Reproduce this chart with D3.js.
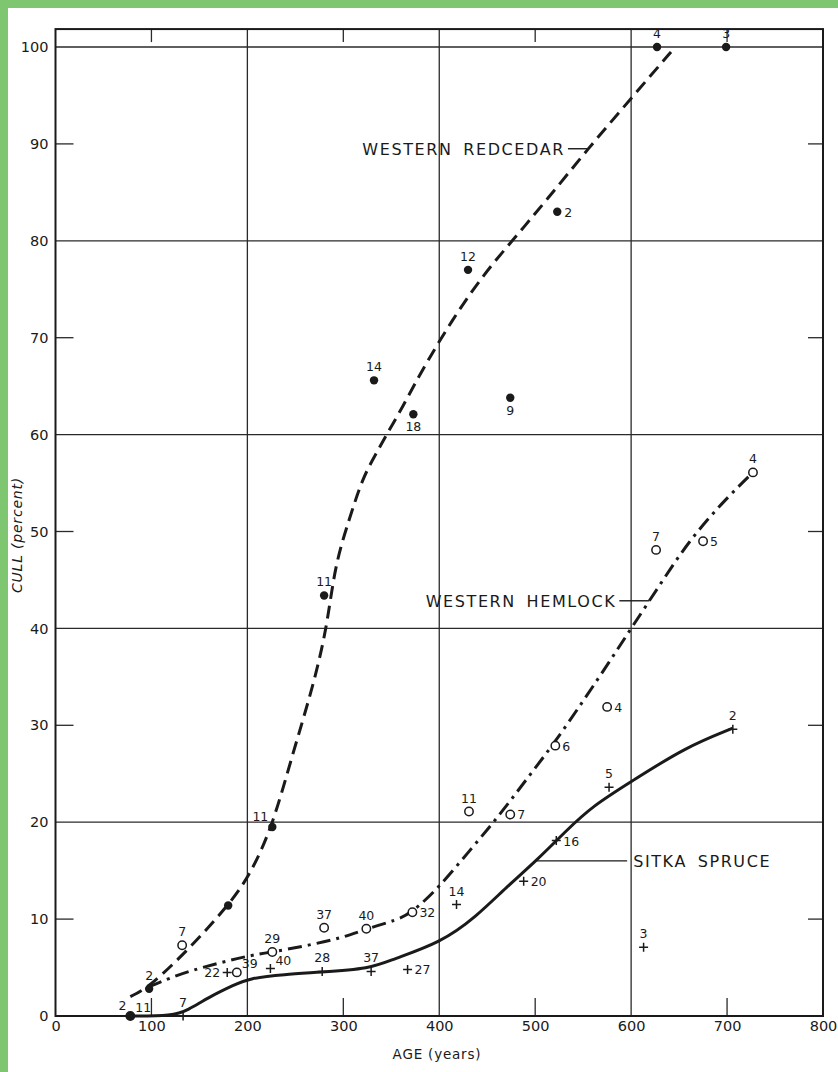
<!DOCTYPE html>
<html>
<head>
<meta charset="utf-8">
<script src="https://cdn.jsdelivr.net/npm/d3@7"></script>
<style>
  body { margin: 0; background: #fff; }
  text { font-family: "DejaVu Sans", sans-serif; fill: #1a1a1a; }
</style>
</head>
<body>
<div id="chart"></div>
<script>
// ---- data ----
const ageTicks = [0, 100, 200, 300, 400, 500, 600, 700, 800];
const cullTicks = [0, 10, 20, 30, 40, 50, 60, 70, 80, 90, 100];

// western redcedar (filled dots), label = number of trees
const cedarAge  = [78, 97.6, 180, 226, 280, 332, 373, 430, 474, 523, 627, 699];
const cedarCull = [0, 2.8, 11.4, 19.5, 43.4, 65.6, 62.1, 77.0, 63.8, 83.0, 100, 100];
const cedarN    = ["2", "2", "", "11", "11", "14", "18", "12", "9", "2", "4", "3"];
const cedarPos  = ["ul", "u", "u", "ul", "u", "u", "d", "u", "d", "r", "u", "u"];

// western hemlock (open circles)
const hemAge  = [78, 132, 189, 226, 280, 324, 372, 431, 474, 521, 575, 626, 675, 727];
const hemCull = [0, 7.3, 4.5, 6.6, 9.1, 9.0, 10.7, 21.1, 20.8, 27.9, 31.9, 48.1, 49.0, 56.1];
const hemN    = ["11", "7", "39", "29", "37", "40", "32", "11", "7", "6", "4", "7", "5", "4"];
const hemPos  = ["ur", "u", "ur", "u", "u", "u", "r", "u", "r", "r", "r", "u", "r", "u"];

// sitka spruce (plus signs)
const sprAge  = [133, 179, 224, 278, 329, 367, 418, 488, 522, 577, 613, 706];
const sprCull = [0, 4.5, 4.9, 4.6, 4.6, 4.8, 11.5, 13.9, 18.1, 23.6, 7.1, 29.6];
const sprN    = ["7", "22", "40", "28", "37", "27", "14", "20", "16", "5", "3", "2"];
const sprPos  = ["u", "l", "ur", "u", "u", "r", "u", "r", "r", "u", "u", "u"];

// fitted curves as drawn
const cedarCurveAge  = [78, 98, 140, 180, 202, 226, 247, 267, 283, 291, 307, 320, 334, 345, 360, 387, 435, 476, 512, 555, 600, 646];
const cedarCurveCull = [2, 3, 7, 11.4, 14.4, 19.5, 27, 33.5, 40, 46.5, 51.5, 55.5, 58, 60, 62.5, 67.6, 75.2, 80, 84.2, 89.5, 94.7, 100];
const hemCurveAge  = [97, 121, 148, 199, 226, 264, 300, 324, 356, 372, 399, 432, 461, 490, 521, 552, 577, 600, 630, 660, 695, 727];
const hemCurveCull = [3, 4, 4.9, 6.2, 6.6, 7.3, 8.1, 9.0, 9.9, 10.7, 13.2, 17.1, 20.5, 24.3, 28.3, 32.8, 36.5, 40, 44.5, 49, 53, 56.1];
const sprCurveAge  = [78, 122, 138, 159, 186, 202, 239, 274, 329, 350, 402, 438, 470, 502, 531, 560, 602, 656, 706];
const sprCurveCull = [0, 0, 0.6, 1.9, 3.2, 3.9, 4.3, 4.5, 4.9, 5.8, 7.6, 10.2, 13.3, 16.1, 19, 21.7, 24.3, 27.7, 29.7];

// curve names and the age where each leader meets its curve
const speciesNames = ["WESTERN REDCEDAR", "WESTERN HEMLOCK", "SITKA SPRUCE"];
const leaderAge = [555, 619, 501];

function chart() {
    const width = 838, height = 1072;
    const ink = "#1a1a1a";

    const svg = d3.select("#chart").append("svg")
        .attr("width", width)
        .attr("height", height);

    svg.append("rect").attr("width", width).attr("height", height).attr("fill", "#fff");
    // green scan border (top and left)
    svg.append("rect").attr("width", width).attr("height", 8).attr("fill", "#7ec66f");
    svg.append("rect").attr("width", 8).attr("height", height).attr("fill", "#7ec66f");

    const x = d3.scaleLinear().domain([0, 800]).range([55.5, 823]);
    const y = d3.scaleLinear().domain([0, 100]).range([1016, 47]);
    const yTop = y(101.85);

    // grid: full lines at even marks, short ticks at odd marks
    const grid = svg.append("g").attr("stroke", "#2a2a2a").attr("stroke-width", 1.3);
    grid.selectAll(".vg").data(ageTicks.filter(d => d % 200 === 0 && d > 0 && d < 800))
        .join("line")
        .attr("x1", d => x(d)).attr("x2", d => x(d))
        .attr("y1", yTop).attr("y2", y(0));
    grid.selectAll(".vt").data(ageTicks.filter(d => d % 200 === 100))
        .join(enter => {
            const g = enter.append("g");
            g.append("line").attr("x1", d => x(d)).attr("x2", d => x(d))
                .attr("y1", y(0)).attr("y2", y(0) - 18);
            g.append("line").attr("x1", d => x(d)).attr("x2", d => x(d))
                .attr("y1", yTop).attr("y2", yTop + 13);
            return g;
        });
    grid.selectAll(".hg").data(cullTicks.filter(d => d % 20 === 0 && d > 0))
        .join("line")
        .attr("x1", x(0)).attr("x2", x(800))
        .attr("y1", d => y(d)).attr("y2", d => y(d));
    grid.selectAll(".ht").data(cullTicks.filter(d => d % 20 === 10))
        .join(enter => {
            const g = enter.append("g");
            g.append("line").attr("x1", x(0)).attr("x2", x(0) + 18)
                .attr("y1", d => y(d)).attr("y2", d => y(d));
            g.append("line").attr("x1", x(800) - 15).attr("x2", x(800))
                .attr("y1", d => y(d)).attr("y2", d => y(d));
            return g;
        });

    // frame
    svg.append("rect")
        .attr("x", x(0)).attr("y", yTop)
        .attr("width", x(800) - x(0)).attr("height", y(0) - yTop)
        .attr("fill", "none").attr("stroke", ink).attr("stroke-width", 2);

    // axes (labels only)
    const xAxis = svg.append("g")
        .attr("transform", `translate(0,${y(0)})`)
        .call(d3.axisBottom(x).tickValues(ageTicks).tickSize(0).tickPadding(5).tickFormat(d3.format("d")));
    const yAxis = svg.append("g")
        .attr("transform", `translate(${x(0)},0)`)
        .call(d3.axisLeft(y).tickValues(cullTicks).tickSize(0).tickPadding(7).tickFormat(d3.format("d")));
    [xAxis, yAxis].forEach(a => {
        a.select(".domain").remove();
        a.selectAll("text").style("font-family", "DejaVu Sans, sans-serif")
            .style("font-size", "14.5px").attr("fill", ink);
    });

    svg.append("text")
        .attr("x", 437).attr("y", 1059)
        .attr("text-anchor", "middle")
        .style("font-size", "13.5px").style("letter-spacing", "0.8px")
        .text("AGE (years)");
    svg.append("text")
        .attr("transform", `translate(22,${535}) rotate(-90)`)
        .attr("text-anchor", "middle")
        .style("font-size", "14px").style("font-style", "italic").style("letter-spacing", "0.8px")
        .text("CULL (percent)");

    // curves
    const line = d3.line().x(d => x(d[0])).y(d => y(d[1])).curve(d3.curveBasis);
    const curves = [
        {age: cedarCurveAge, cull: cedarCurveCull, dash: "13,7"},
        {age: hemCurveAge, cull: hemCurveCull, dash: "14,6,3,6"},
        {age: sprCurveAge, cull: sprCurveCull, dash: null}
    ];
    svg.append("g").attr("fill", "none").attr("stroke", ink)
        .attr("stroke-width", 3).attr("stroke-linecap", "butt")
        .selectAll("path").data(curves).join("path")
        .attr("d", c => line(c.age.map((a, i) => [a, c.cull[i]])))
        .attr("stroke-dasharray", c => c.dash);

    // species labels with leaders
    function curveCull(c, a) {
        const i = d3.bisectLeft(c.age, a);
        const t = (a - c.age[i - 1]) / (c.age[i] - c.age[i - 1]);
        return c.cull[i - 1] + t * (c.cull[i] - c.cull[i - 1]);
    }
    const leaderLen = [-20, -30, 91];
    const labels = svg.append("g");
    speciesNames.forEach((name, k) => {
        const px = x(leaderAge[k]);
        const py = y(curveCull(curves[k], leaderAge[k]));
        const ex = px + leaderLen[k];
        labels.append("line").attr("x1", px).attr("x2", ex).attr("y1", py).attr("y2", py)
            .attr("stroke", ink).attr("stroke-width", 1.4);
        labels.append("text")
            .attr("x", leaderLen[k] < 0 ? ex - 3 : ex + 6)
            .attr("y", py + 6)
            .attr("text-anchor", leaderLen[k] < 0 ? "end" : "start")
            .style("font-size", "16px").style("letter-spacing", "1.6px")
            .style("word-spacing", "4px")
            .text(name);
    });

    // point markers
    const pts = svg.append("g");
    pts.selectAll(".dot").data(cedarAge.map((a, i) => [a, cedarCull[i]]))
        .join("circle").attr("cx", d => x(d[0])).attr("cy", d => y(d[1]))
        .attr("r", 4.2).attr("fill", ink);
    pts.selectAll(".ring").data(hemAge.map((a, i) => [a, hemCull[i]]))
        .join("circle").attr("cx", d => x(d[0])).attr("cy", d => y(d[1]))
        .attr("r", 4.2).attr("fill", (d, i) => i === 0 ? "none" : "#fff")
        .attr("stroke", ink).attr("stroke-width", 1.5);
    pts.selectAll(".plus").data(sprAge.map((a, i) => [a, sprCull[i]]))
        .join("path")
        .attr("d", d => `M${x(d[0]) - 4.5},${y(d[1])}h9M${x(d[0])},${y(d[1]) - 4.5}v9`)
        .attr("stroke", ink).attr("stroke-width", 1.5);

    // point labels (tree counts)
    const offs = {
        u:  [0, -9, "middle"],
        d:  [0, 17, "middle"],
        r:  [7, 5, "start"],
        l:  [-7, 5, "end"],
        ul: [-4, -6, "end"],
        ur: [5, -4, "start"]
    };
    const sets = [
        [cedarAge, cedarCull, cedarN, cedarPos],
        [hemAge, hemCull, hemN, hemPos],
        [sprAge, sprCull, sprN, sprPos]
    ];
    sets.forEach(([ages, culls, ns, pos]) => {
        pts.append("g").selectAll("text").data(ages.map((a, i) => i))
            .join("text")
            .attr("x", i => x(ages[i]) + offs[pos[i]][0])
            .attr("y", i => y(culls[i]) + offs[pos[i]][1])
            .attr("text-anchor", i => offs[pos[i]][2])
            .style("font-size", "12.5px")
            .text(i => ns[i]);
    });
}

window.onload = function() {
    chart();
};
</script>
</body>
</html>
